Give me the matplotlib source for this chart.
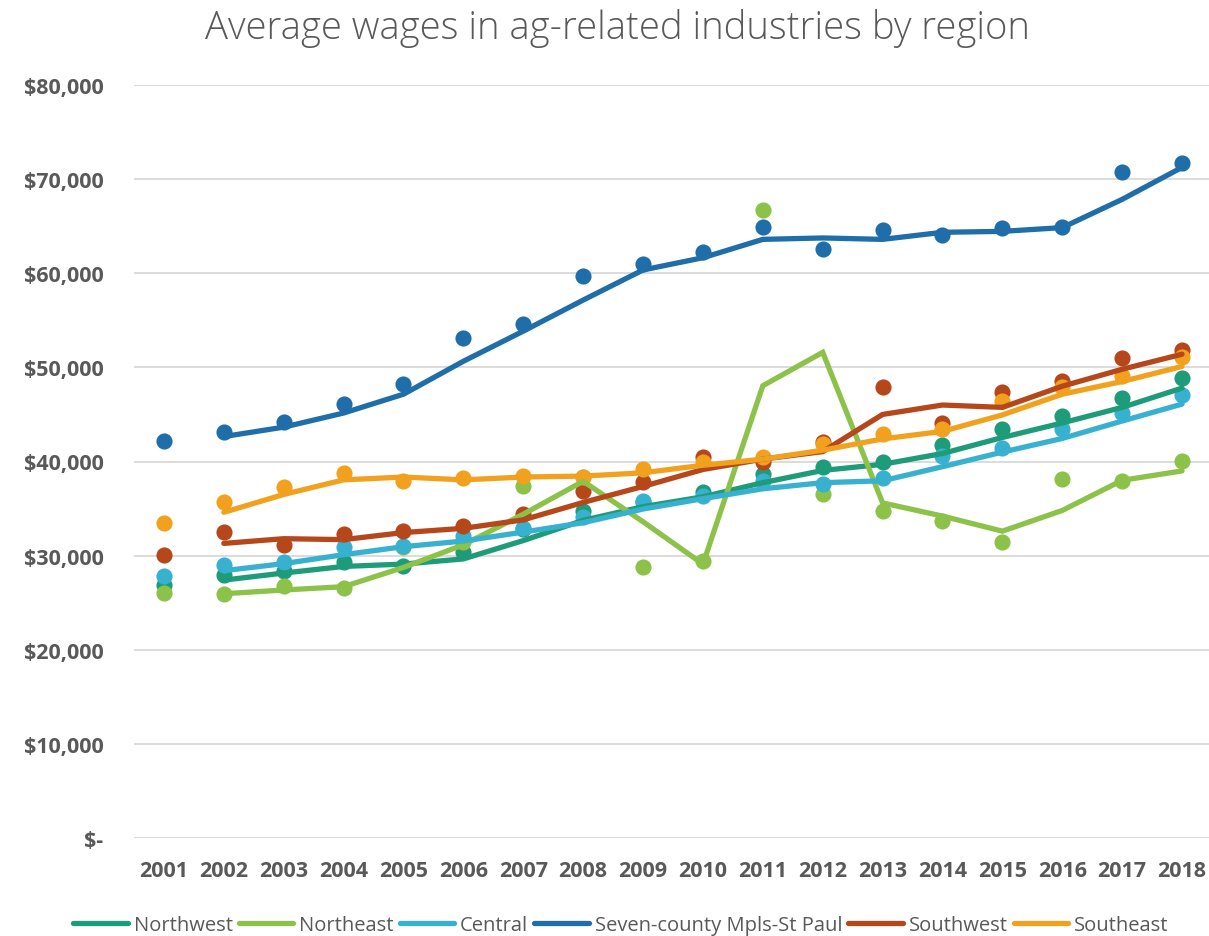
import numpy as np
import pandas as pd
import matplotlib
matplotlib.use('Agg')
import matplotlib.pyplot as plt
from matplotlib.ticker import FuncFormatter

years = list(range(2001, 2019))

northwest = [26900, 27900, 28400, 29300, 28900, 30400, 32800, 34700, 35700, 36800,
             38700, 39400, 40000, 41700, 43400, 44800, 46700, 48900]
northeast = [26000, 25900, 26800, 26600, 30900, 31400, 37400, 38400, 28800, 29400,
             66700, 36500, 34700, 33700, 31500, 38100, 37900, 40100]
central = [27800, 29000, 29300, 30900, 31000, 32100, 32900, 34100, 35800, 36300,
           37900, 37600, 38300, 40600, 41400, 43500, 45100, 47100]
metro = [42200, 43100, 44200, 46100, 48200, 53100, 54600, 59700, 61000, 62300,
         64900, 62600, 64600, 64100, 64800, 64900, 70800, 71700]
southwest = [30100, 32500, 31100, 32300, 32600, 33200, 34400, 36900, 37800, 40500,
             40000, 42100, 47900, 44100, 47400, 48600, 51000, 51800]
southeast = [33500, 35700, 37300, 38800, 37900, 38200, 38500, 38400, 39200, 40000,
             40500, 41900, 42900, 43500, 46400, 47900, 49100, 51100]

names = ['Northwest', 'Northeast', 'Central', 'Seven-county Mpls-St Paul',
         'Southwest', 'Southeast']
series = [northwest, northeast, central, metro, southwest, southeast]
colors = ['#1E9B78', '#8CC249', '#38B1D1', '#1F6EA9', '#B6471B', '#F2A11F']

fig = plt.figure(figsize=(12.09, 9.37), dpi=100)
ax = fig.add_axes([134/1209, 98/937, 1075/1209, 753/937])

handles = []
for name, vals, c in zip(names, series, colors):
    s = pd.Series(vals, index=years)
    ma = s.rolling(2).mean()  # 2-period moving average trendline
    ax.scatter(years, vals, s=135, color=c, zorder=3, linewidths=0)
    h, = ax.plot(years, ma.values, color=c, lw=3.8, zorder=4,
                 solid_capstyle='round', solid_joinstyle='miter')
    handles.append(h)

ax.set_xlim(2000.5, 2018.45)
ax.set_ylim(0, 80000)
ax.set_yticks(np.arange(0, 80001, 10000))
ax.set_xticks(years)
ax.yaxis.set_major_formatter(FuncFormatter(lambda v, p: '$-' if v == 0 else '${:,.0f}'.format(v)))
ax.grid(axis='y', color='#D9D9D9', lw=1.3, zorder=0)
ax.set_axisbelow(True)
for sp in ax.spines.values():
    sp.set_visible(False)
ax.tick_params(length=0, colors='#595959')
for lab in ax.get_xticklabels() + ax.get_yticklabels():
    lab.set_fontweight('bold')
    lab.set_fontsize(15.5)
    lab.set_family('Open Sans')
    lab.set_color('#595959')
ax.tick_params(axis='y', pad=22)
ax.tick_params(axis='x', pad=16)

fig.text(617/1209, 1 - 28/937, 'Average wages in ag-related industries by region',
         ha='center', va='center', fontsize=27.5, color='#595959', family='Open Sans',
         fontweight='light')

leg = fig.legend(handles, names, loc='center', bbox_to_anchor=(621/1209, 1 - 926/937),
                 ncol=6, frameon=False, handlelength=2.7, handletextpad=0.3,
                 columnspacing=0.3, prop={'family': 'Open Sans', 'size': 14.5})
for t in leg.get_texts():
    t.set_color('#595959')

fig.savefig('out.png', dpi=100)
